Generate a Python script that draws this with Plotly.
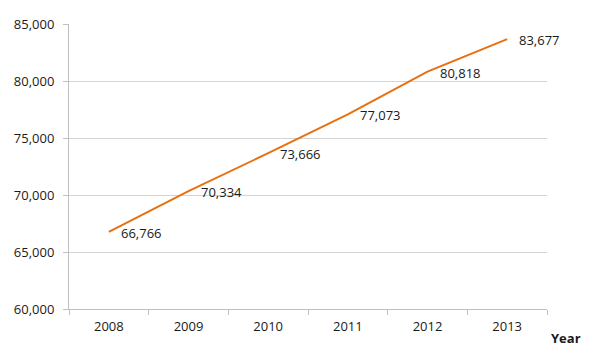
import plotly.graph_objects as go

years = ["2008", "2009", "2010", "2011", "2012", "2013"]
values = [66766, 70334, 73666, 77073, 80818, 83677]
y_ticks = [60000, 65000, 70000, 75000, 80000, 85000]

FONT = "Open Sans"
TXT = "#1a1a1a"
fig = go.Figure()
fig.add_trace(go.Scatter(
    x=years, y=values, mode="lines",
    line=dict(color="#E8700F", width=2),
    hoverinfo="skip", showlegend=False,
))

annotations = [
    dict(x=i, y=v, xref="x", yref="y", text=f"{v:,}", showarrow=False,
         xanchor="left", yanchor="middle", xshift=10, yshift=-1,
         font=dict(family=FONT, size=13, color=TXT))
    for i, v in enumerate(values)
]
annotations.append(dict(x=(566 - 69) / (547 - 69), y=-(338 - 309) / (309 - 24),
                        xref="paper", yref="paper", text="<b>Year</b>",
                        xanchor="center", yanchor="middle", showarrow=False,
                        font=dict(family=FONT, size=13, color=TXT)))

fig.update_layout(
    width=600, height=356,
    margin=dict(l=61, r=61, t=16, b=55),
    paper_bgcolor="white", plot_bgcolor="white",
    font=dict(family=FONT, size=13, color=TXT),
    xaxis=dict(type="category", range=[-0.5, 5.5], tickson="boundaries",
               ticks="outside", ticklen=5, tickcolor="#bfbfbf",
               showline=True, linecolor="#bfbfbf", linewidth=1, automargin=False,
               showgrid=False, tickfont=dict(size=13), ticklabelstandoff=5),
    yaxis=dict(range=[60000, 85000], tickvals=y_ticks,
               ticktext=[f"{t:,}" for t in y_ticks],
               ticks="outside", ticklen=5, tickcolor="#bfbfbf",
               showline=True, linecolor="#bfbfbf", linewidth=1, automargin=False,
               showgrid=True, gridcolor="#d4d4d4", gridwidth=1,
               zeroline=False, tickfont=dict(size=13), ticklabelstandoff=6),
    annotations=annotations,
)
fig.write_html("out.html")
